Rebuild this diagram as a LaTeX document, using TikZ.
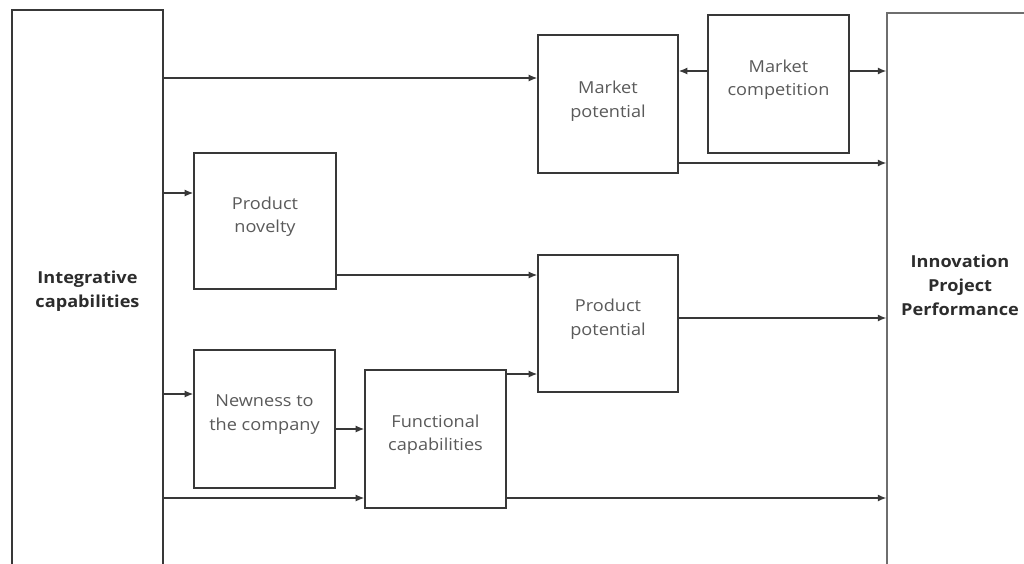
\documentclass[tikz,border=0pt]{standalone}
\usepackage{fontspec}
\setmainfont{Open Sans}[FakeStretch=1.1]
\usetikzlibrary{arrows.meta}
\definecolor{edge}{HTML}{383838}
\definecolor{softedge}{HTML}{6E6E6E}
\definecolor{plain}{HTML}{5A5A5A}
\definecolor{strong}{HTML}{2C2C2C}
\tikzset{
  box/.style={draw=edge, line width=1.6pt, fill=white, inner sep=0pt},
  txt/.style={align=center, text=plain, font=\fontsize{16.5}{23.5}\selectfont, yshift=4.5pt},
  bold/.style={txt, text=strong, font=\fontsize{16.5}{24}\selectfont\bfseries},
  arr/.style={draw=edge, line width=1.3pt, -{Latex[length=8.5pt,width=7pt]}}
}
\begin{document}
\begin{tikzpicture}[x=1pt, y=-1pt]
\useasboundingbox (0,0) rectangle (1024,563);
\clip (0,0) rectangle (1024,563);
\fill[white] (0,0) rectangle (1024,563);

% outer columns
\node[box, minimum width=151pt, minimum height=565pt,
      label={[bold, yshift=-3pt]center:Integrative\\capabilities}] (ic) at (87.5,292.5) {};
\node[box, draw=softedge, line width=1.4pt, minimum width=153pt, minimum height=562pt,
      label={[bold, xshift=-3.5pt, yshift=4.5pt]center:Innovation\\Project\\Performance}] (ipp) at (963.5,294) {};

% inner boxes
\node[box, minimum width=140pt, minimum height=138pt,
      label={[txt, yshift=-1.5pt]center:Market\\potential}] (mp) at (608,104) {};
\node[box, minimum width=141pt, minimum height=138pt,
      label={[txt]center:Market\\competition}] (mc) at (778.5,84) {};
\node[box, minimum width=142pt, minimum height=136pt,
      label={[txt]center:Product\\novelty}] (pn) at (265,221) {};
\node[box, minimum width=140pt, minimum height=137pt,
      label={[txt]center:Product\\potential}] (pp) at (608,323.5) {};
\node[box, minimum width=141pt, minimum height=138pt,
      label={[txt]center:Newness to\\the company}] (nc) at (264.5,419) {};
\node[box, minimum width=141pt, minimum height=138pt,
      label={[txt]center:Functional\\capabilities}] (fc) at (435.5,439) {};

% connectors
\draw[arr] (ic.east |- 0,78)  -- (mp.west |- 0,78);
\draw[arr] (mc.west |- 0,71)  -- (mp.east |- 0,71);
\draw[arr] (mc.east |- 0,71)  -- (ipp.west |- 0,71);
\draw[arr] (mp.east |- 0,163) -- (ipp.west |- 0,163);
\draw[arr] (ic.east |- 0,193) -- (pn.west |- 0,193);
\draw[arr] (pn.east |- 0,275) -- (pp.west |- 0,275);
\draw[arr] (pp.east |- 0,318) -- (ipp.west |- 0,318);
\draw[arr] (ic.east |- 0,394) -- (nc.west |- 0,394);
\draw[arr] (nc.east |- 0,429) -- (fc.west |- 0,429);
\draw[arr] (fc.east |- 0,374) -- (pp.west |- 0,374);
\draw[arr] (ic.east |- 0,498) -- (fc.west |- 0,498);
\draw[arr] (fc.east |- 0,498) -- (ipp.west |- 0,498);
\end{tikzpicture}
\end{document}
